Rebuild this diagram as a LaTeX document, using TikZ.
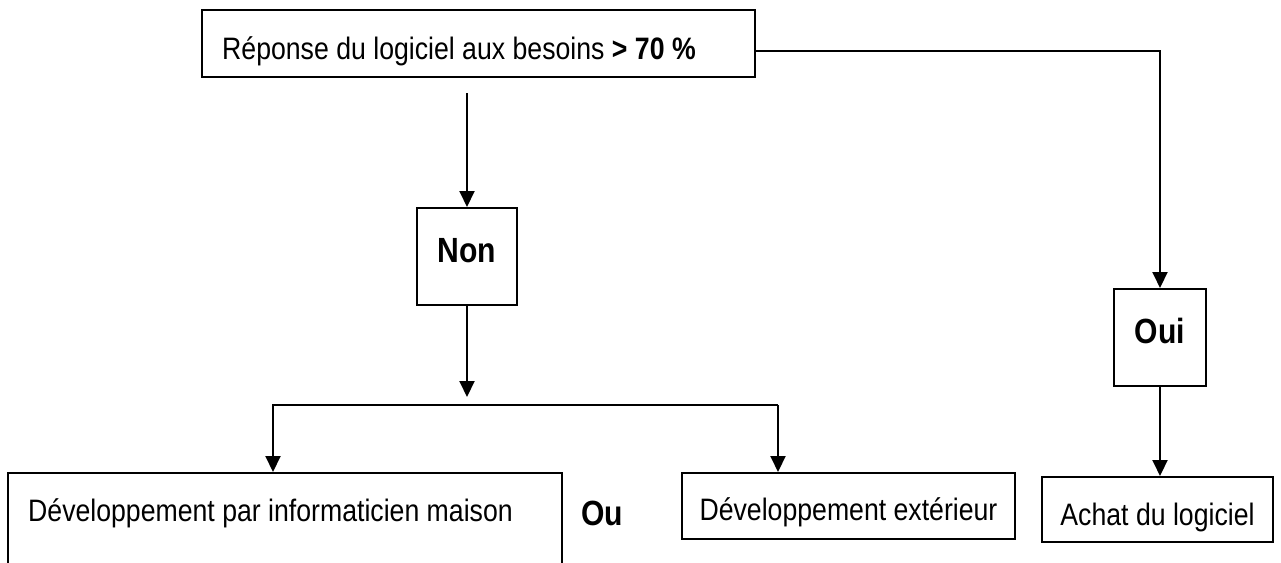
\documentclass[tikz,border=0pt]{standalone}
\usepackage{fontspec}
\setmainfont{Liberation Sans}[FakeStretch=0.86]
\usetikzlibrary{arrows.meta,calc}
\begin{document}
\begin{tikzpicture}[x=1pt,y=-1pt,
  box/.style={draw,line width=2pt,inner sep=0pt,font=\fontsize{31}{36}\selectfont},
  caption/.style={inner sep=0pt,anchor=base west,font=\fontsize{31}{36}\selectfont},
  answer/.style={font=\fontsize{35}{40}\selectfont\bfseries},
  link/.style={line width=2pt},
  flow/.style={line width=2pt,-{Triangle[width=15pt,length=16pt]}}]
\useasboundingbox (0,0) rectangle (1281,562);

% question box
\node[box,minimum width=553pt,minimum height=67pt] (need) at (478.5,43.5) {};
\node[caption] (needtext) at ($(need.north west)+(21,50)$)
  {Réponse du logiciel aux besoins \textbf{> 70 \%}};

% answers
\node[box,answer,minimum width=100pt,text height=54pt,text depth=43pt] (non) at (467,256.5) {Non};
\node[box,answer,minimum width=92pt,text height=54pt,text depth=43pt] (oui) at (1160,337.5) {Oui};

% outcomes
\begin{scope}
  \clip (0,0) rectangle (1281,562);
  \node[box,minimum width=554pt,minimum height=127pt] (maison) at (285,536.5) {};
\end{scope}
\node[caption] (maisontext) at ($(maison.north west)+(21,49)$)
  {Développement par informaticien maison};
\node[box,minimum width=333pt,text height=47pt,text depth=19pt] (ext) at (848.5,506) {Développement extérieur};
\node[box,minimum width=231pt,text height=48pt,text depth=17pt] (achat) at (1157.5,509.5) {Achat du logiciel};
\node[answer,inner sep=0pt,anchor=base] (ou) at (602,525) {Ou};

% branching bus under "Non"
\coordinate (busL) at (273,405);
\coordinate (busR) at (778,405);

% connectors
\draw[flow] ($(need.south -| non.north)+(0,15)$) -- (non.north);
\draw[flow] (non.south) -- ($(non.south |- busL)+(0,-8)$);
\draw[flow] (busR) -- (busL) -- (busL |- maison.north);
\draw[flow] (busR) -- (busR |- ext.north);
\draw[flow] ($(need.north east)!0.61!(need.south east)$) -| (oui.north);
\draw[flow] (oui.south) -- (oui.south |- achat.north);
\end{tikzpicture}
\end{document}
